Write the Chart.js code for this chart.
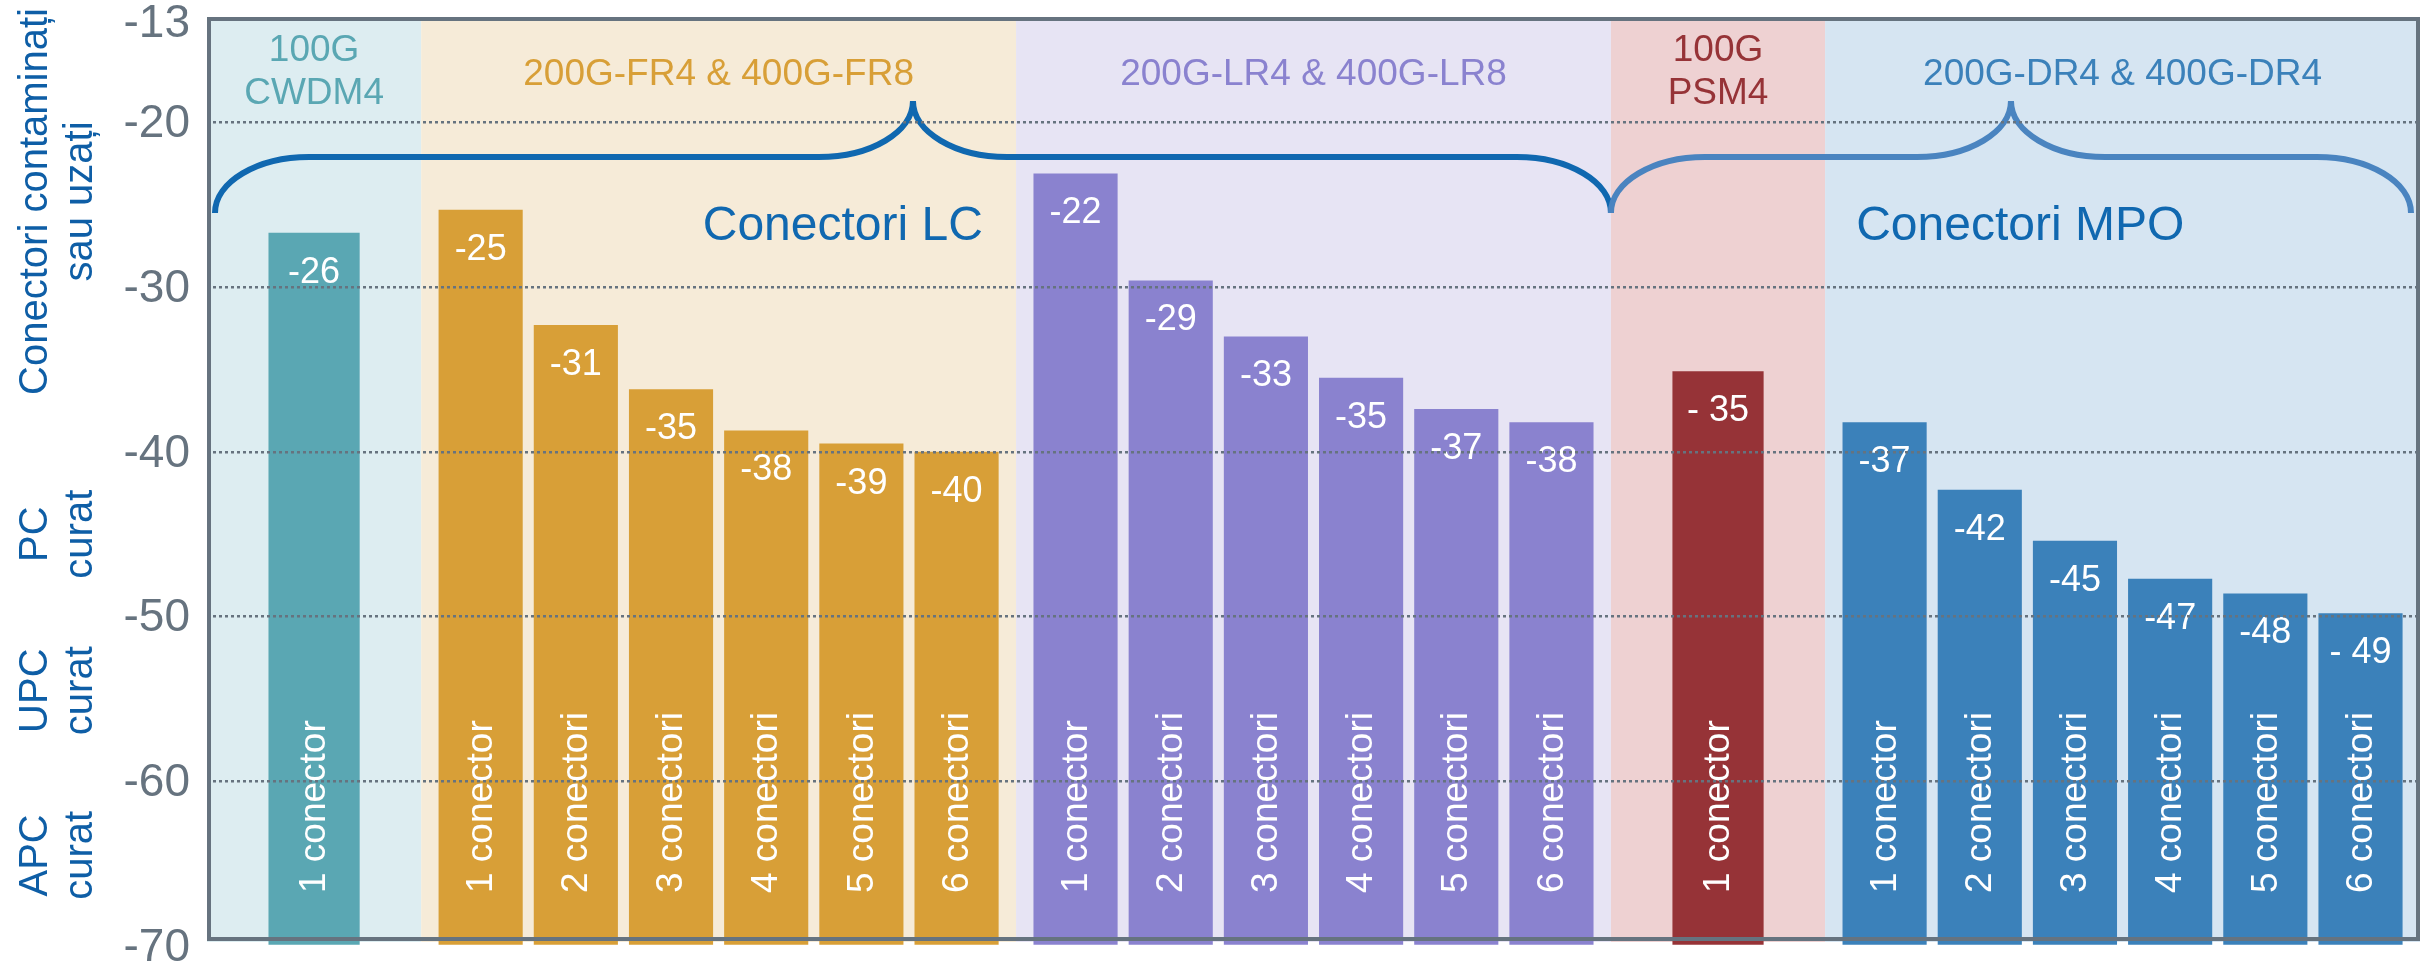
<!DOCTYPE html>
<html>
<head>
<meta charset="utf-8">
<title>Conectori – pierderi de retur</title>
<script src="https://cdn.jsdelivr.net/npm/chart.js@4.4.1/dist/chart.umd.min.js"></script>
<style>
    html, body { margin: 0; padding: 0; background: #fff; }
    #wrap { width: 2427px; height: 968px; }
</style>
</head>
<body>
<div id="wrap"><canvas id="chart" width="2427" height="968"></canvas></div>
<script>
// ─────────────────────────────────────────────────────────────────
//  Data
// ─────────────────────────────────────────────────────────────────
const GROUP_TITLES = [
    ['100G', 'CWDM4'],
    ['200G-FR4 & 400G-FR8'],
    ['200G-LR4 & 400G-LR8'],
    ['100G', 'PSM4'],
    ['200G-DR4 & 400G-DR4'],
];

// bar heights as drawn in the picture
const CWDM4_VALUES = [-26.7];
const FR_VALUES    = [-25.3, -32.3, -36.2, -38.7, -39.5, -40.0];
const LR_VALUES    = [-23.1, -29.6, -33.0, -35.5, -37.4, -38.2];
const PSM4_VALUES  = [-35.1];
const DR_VALUES    = [-38.2, -42.3, -45.4, -47.7, -48.6, -49.8];

// printed value labels
const CWDM4_LABELS = ['-26'];
const FR_LABELS    = ['-25', '-31', '-35', '-38', '-39', '-40'];
const LR_LABELS    = ['-22', '-29', '-33', '-35', '-37', '-38'];
const PSM4_LABELS  = ['- 35'];
const DR_LABELS    = ['-37', '-42', '-45', '-47', '-48', '- 49'];

const BAR_NAMES = ['1 conector', '2 conectori', '3 conectori', '4 conectori', '5 conectori', '6 conectori'];

const CONNECTOR_TYPES = ['Conectori LC', 'Conectori MPO'];
const CONNECTOR_GROUPS = [[0, 2], [3, 4]];   // first / last group under each brace

const Y_TICKS = [-13, -20, -30, -40, -50, -60, -70];

const SIDE_TITLES = [
    ['Conectori contaminați', 'sau uzați'],
    ['PC', 'curat'],
    ['UPC', 'curat'],
    ['APC', 'curat'],
];

// ─────────────────────────────────────────────────────────────────
//  Layout + palette
// ─────────────────────────────────────────────────────────────────
const FONT = '"Liberation Sans", Arial, Helvetica, sans-serif';

const GROUP_STYLES = [
    { bar: '#5aa7b3', band: '#ddedf1', text: '#5aa7b3' },
    { bar: '#d89f37', band: '#f6ebd8', text: '#d89f37' },
    { bar: '#8a82cf', band: '#e7e4f4', text: '#8a82cf' },
    { bar: '#963337', band: '#eed1d2', text: '#963337' },
    { bar: '#3b81ba', band: '#d6e5f2', text: '#3b81ba' },
];

const AXIS_GREY   = '#66737f';
const TITLE_BLUE  = '#0e5ea6';
const BRACE_BLUE  = ['#1068b0', '#4a84c0'];

const Y_MIN = -70;
const Y_MAX = -13.6;            // top of the box, labelled with the first tick
const TOP_LABEL_DROP = 0.35;    // the top label sits a touch under the frame
const SINGLE_BAND = 2.25;       // band width for a lone bar, in bar pitches
const GROUP_PAD   = 0.125;      // extra band space on each side of a group
const BOX_INSET   = 5;          // box bottom sits a little above the bar base
const SIDE_TITLE_AT = [-24.8, -45, -54.5, -64.5];
const CONNECTOR_TEXT_X = [6.68, 19.05];

const groupValues = [CWDM4_VALUES, FR_VALUES, LR_VALUES, PSM4_VALUES, DR_VALUES];
const groupLabels = [CWDM4_LABELS, FR_LABELS, LR_LABELS, PSM4_LABELS, DR_LABELS];

// band extent and bar centres on a linear x axis (1 unit = bar pitch)
let cursor = 0;
const bands = groupValues.map(vals => {
    const n = vals.length;
    const width = n === 1 ? SINGLE_BAND : n + 2 * GROUP_PAD;
    const start = cursor;
    cursor += width;
    const xs = vals.map((_, i) => n === 1 ? start + width / 2 : start + GROUP_PAD + 0.5 + i);
    return { start, end: cursor, xs };
});
const X_MAX = cursor;

// ─── curly brace ──────────────────────────────────────────────────
function drawBrace(ctx, x0, x1, yLine, depth, r, color) {
    const xm = (x0 + x1) / 2;
    const k = 0.5523;
    const yEnd = yLine + depth;
    const yTip = yLine - depth;
    ctx.save();
    ctx.strokeStyle = color;
    ctx.lineWidth = 6;
    ctx.beginPath();
    ctx.moveTo(x0, yEnd);
    ctx.bezierCurveTo(x0, yEnd - k * depth, x0 + r - k * r, yLine, x0 + r, yLine);
    ctx.lineTo(xm - r, yLine);
    ctx.bezierCurveTo(xm - r + k * r, yLine, xm, yTip + k * depth, xm, yTip);
    ctx.bezierCurveTo(xm, yTip + k * depth, xm + r - k * r, yLine, xm + r, yLine);
    ctx.lineTo(x1 - r, yLine);
    ctx.bezierCurveTo(x1 - r + k * r, yLine, x1, yEnd - k * depth, x1, yEnd);
    ctx.stroke();
    ctx.restore();
}

// ─── decorations plugin ───────────────────────────────────────────
const decorPlugin = {
    id: 'decor',
    beforeDatasetsDraw(chart) {
        const { ctx, chartArea: a, scales: { x } } = chart;
        ctx.save();
        bands.forEach((b, gi) => {
            const x0 = x.getPixelForValue(b.start);
            const x1 = x.getPixelForValue(b.end);
            ctx.fillStyle = GROUP_STYLES[gi].band;
            ctx.fillRect(x0, a.top, x1 - x0, a.bottom - a.top - BOX_INSET + 1);
        });
        ctx.restore();
    },
    afterDatasetsDraw(chart) {
        const { ctx, chartArea: a, scales: { x } } = chart;
        ctx.save();

        // values + rotated bar names
        chart.data.datasets.forEach((ds, gi) => {
            const meta = chart.getDatasetMeta(gi);
            meta.data.forEach((bar, i) => {
                ctx.fillStyle = '#ffffff';
                ctx.font = `36px ${FONT}`;
                ctx.textAlign = 'center';
                ctx.textBaseline = 'middle';
                ctx.fillText(groupLabels[gi][i], bar.x, bar.y + 40);

                ctx.save();
                ctx.translate(bar.x, a.bottom - 53);
                ctx.rotate(-Math.PI / 2);
                ctx.font = `37px ${FONT}`;
                ctx.textAlign = 'left';
                ctx.textBaseline = 'middle';
                ctx.fillText(BAR_NAMES[i], 0, 1);
                ctx.restore();
            });
        });

        // group titles
        ctx.font = `37px ${FONT}`;
        ctx.textAlign = 'center';
        ctx.textBaseline = 'middle';
        bands.forEach((b, gi) => {
            const cx = (x.getPixelForValue(b.start) + x.getPixelForValue(b.end)) / 2;
            const lines = GROUP_TITLES[gi];
            ctx.fillStyle = GROUP_STYLES[gi].text;
            if (lines.length === 1) {
                ctx.fillText(lines[0], cx, a.top + 58);
            } else {
                ctx.fillText(lines[0], cx, a.top + 34);
                ctx.fillText(lines[1], cx, a.top + 77);
            }
        });

        // connector braces + captions
        CONNECTOR_GROUPS.forEach(([g0, g1], ci) => {
            let x0 = x.getPixelForValue(bands[g0].start);
            let x1 = x.getPixelForValue(bands[g1].end);
            if (ci === 0) x0 += 8;
            if (ci === CONNECTOR_GROUPS.length - 1) x1 -= 9;
            drawBrace(ctx, x0, x1, a.top + 140, 56, 94, BRACE_BLUE[ci]);

            ctx.fillStyle = '#1068b0';
            ctx.font = `48px ${FONT}`;
            ctx.textAlign = 'center';
            ctx.textBaseline = 'middle';
            ctx.fillText(CONNECTOR_TYPES[ci], x.getPixelForValue(CONNECTOR_TEXT_X[ci]), a.top + 210);
        });

        ctx.restore();
    },
    afterDraw(chart) {
        const { ctx, chartArea: a, scales: { y } } = chart;
        ctx.save();

        // plot frame
        ctx.strokeStyle = AXIS_GREY;
        ctx.lineWidth = 4;
        const bottom = a.bottom - BOX_INSET;
        ctx.strokeRect(a.left + 2, a.top + 2, a.right - a.left - 4, bottom - a.top - 4);

        // side titles
        ctx.fillStyle = TITLE_BLUE;
        ctx.font = `40px ${FONT}`;
        ctx.textAlign = 'center';
        ctx.textBaseline = 'alphabetic';
        SIDE_TITLES.forEach((lines, i) => {
            ctx.save();
            ctx.translate(0, y.getPixelForValue(SIDE_TITLE_AT[i]));
            ctx.rotate(-Math.PI / 2);
            ctx.fillText(lines[0], 0, 47);
            ctx.fillText(lines[1], 0, 92);
            ctx.restore();
        });

        ctx.restore();
    }
};

// ─── chart ────────────────────────────────────────────────────────
Chart.defaults.font.family = FONT;

new Chart(document.getElementById('chart'), {
    type: 'bar',
    data: {
        datasets: groupValues.map((vals, gi) => ({
            label: GROUP_TITLES[gi].join(' '),
            data: vals.map((v, i) => ({ x: bands[gi].xs[i], y: v })),
            backgroundColor: GROUP_STYLES[gi].bar,
            borderWidth: 0,
            base: Y_MIN,
            grouped: false,
            categoryPercentage: 1,
            barPercentage: vals.length === 1 ? 0.958 : 0.884
        }))
    },
    options: {
        responsive: false,
        devicePixelRatio: 1,
        animation: false,
        layout: { padding: { left: 0, top: 17, right: 7, bottom: 22 } },
        plugins: {
            legend: { display: false },
            tooltip: { enabled: false }
        },
        scales: {
            x: {
                type: 'linear',
                display: false,
                offset: false,
                min: 0,
                max: X_MAX
            },
            y: {
                min: Y_MIN,
                max: Y_MAX,
                afterBuildTicks: s => {
                    s.ticks = Y_TICKS.map(v => ({ value: Math.min(v, s.max - TOP_LABEL_DROP) }));
                },
                afterFit: s => {
                    // the end labels may hang over the box, as in the original
                    s.width = 207;
                    s.paddingTop = 0;
                    s.paddingBottom = 0;
                },
                ticks: {
                    autoSkip: false,
                    padding: 17,
                    labelOffset: 2,
                    color: AXIS_GREY,
                    font: { size: 46 },
                    callback: (v, i) => String(Y_TICKS[i])
                },
                grid: {
                    z: 1,
                    drawTicks: false,
                    lineWidth: 2.5,
                    color: c => (c.tick && (c.tick.value >= Y_MAX - TOP_LABEL_DROP || c.tick.value <= Y_MIN))
                        ? 'rgba(0,0,0,0)' : AXIS_GREY
                },
                border: { display: false, dash: [3, 3] }
            }
        }
    },
    plugins: [decorPlugin]
});
</script>
</body>
</html>
